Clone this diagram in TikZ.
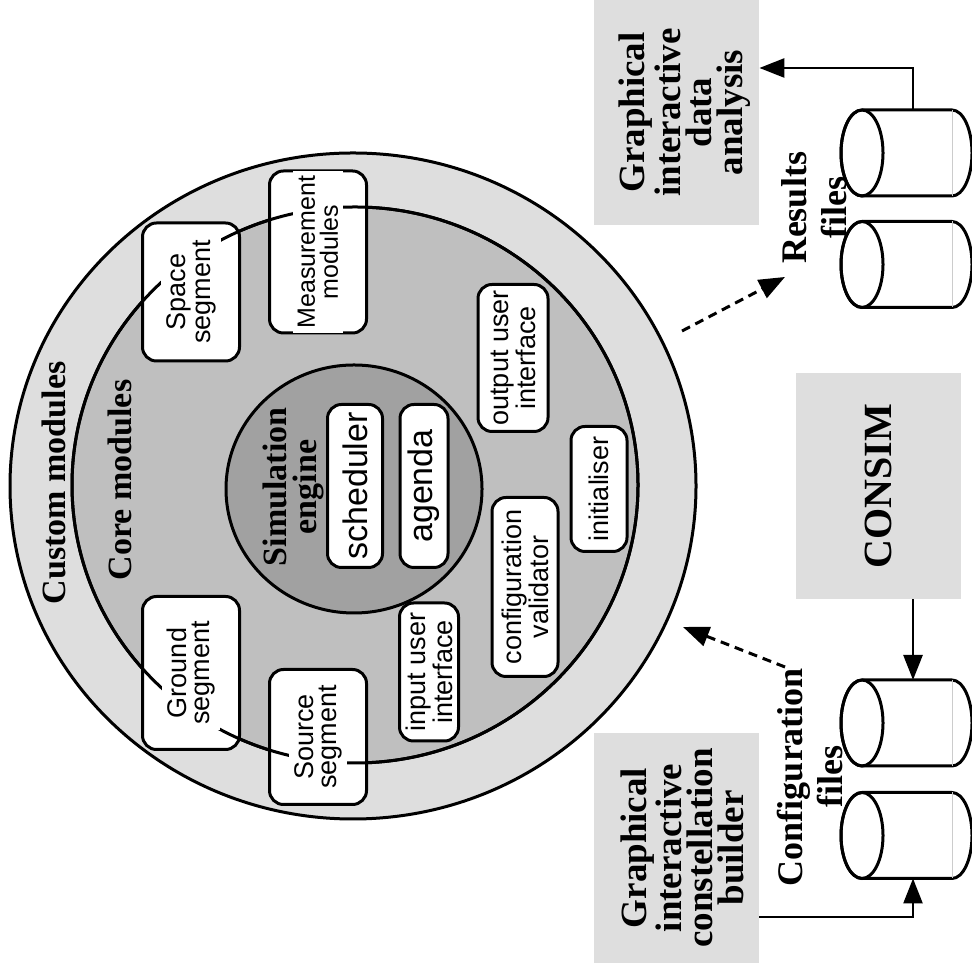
\documentclass[tikz,border=0pt]{standalone}
\usepackage{fontspec}
\setmainfont{Liberation Serif}
\setsansfont{Liberation Sans}
\usetikzlibrary{arrows.meta}

\definecolor{bandlight}{gray}{0.87}
\definecolor{bandcore}{gray}{0.75}
\definecolor{bandengine}{gray}{0.63}

\begin{document}
\begin{tikzpicture}[x=0.5pt,y=0.5pt,
  modbox/.style={draw, line width=1.5pt, fill=white, rounded corners=7pt, rotate=90, inner sep=0pt, align=center, font=\sffamily\fontsize{13.5}{11.5}\selectfont},
  modtext/.style={rotate=90, fill=white, inner sep=2.5pt, align=center, font=\sffamily\fontsize{13.5}{11.5}\selectfont},
  ringlabel/.style={rotate=90, align=center, font=\bfseries\fontsize{17}{15}\selectfont},
  toolbox/.style={fill=bandlight, rotate=90, inner sep=0pt},
  tooltext/.style={rotate=90, align=center, font=\bfseries\fontsize{18.5}{15.5}\selectfont},
  filelabel/.style={rotate=90, align=center, font=\bfseries\fontsize{18}{20}\selectfont},
  ringline/.style={line width=1.5pt},
  flow/.style={line width=1.3pt, -{Triangle[length=12.5pt,width=9.5pt]}},
  dataflow/.style={line width=1.5pt, dash pattern=on 4.5pt off 3pt, -{Triangle[length=13pt,width=10pt]}}]
 \useasboundingbox (0,0) rectangle (972,972);

 % rings
 \draw[ringline, fill=bandlight] (353,486) ellipse [x radius=343, y radius=333];
 \draw[ringline, fill=bandcore] (355,487) ellipse [x radius=283, y radius=278];
 \draw[ringline, fill=bandengine] (354,483) ellipse [x radius=128, y radius=124];

 \node[ringlabel] (customLbl) at (54,489) {Custom modules};
 \node[ringlabel] (coreLbl) at (120,492) {Core modules};
 \node[ringlabel] (engineLbl) at (293,485) {Simulation\\engine};

 % modules
 \node[modbox, minimum width=69pt, minimum height=48.5pt] (space) at (191,680) {};
 \node[modbox, minimum width=81pt, minimum height=48.5pt] (measure) at (318,720) {};
 \node[modbox, minimum width=76.5pt, minimum height=48.5pt] (ground) at (191,299) {};
 \node[modbox, minimum width=67.5pt, minimum height=48.5pt] (source) at (318,235) {};
 \node[modbox, minimum width=69pt, minimum height=29.5pt] (inUI) at (429,300) {input user\\interface};
 \node[modbox, minimum width=73.5pt, minimum height=35pt] (outUI) at (513,614) {output user\\interface};
 \node[modbox, minimum width=62.5pt, minimum height=28pt] (init) at (599,483) {initialiser};
 \node[modbox, minimum width=89.5pt, minimum height=33pt] (validator) at (525,385) {configuration\\validator};
 \node[modbox, minimum width=81.5pt, minimum height=27.5pt, font=\sffamily\fontsize{17}{17}\selectfont] (sched) at (355,486) {scheduler};
 \node[modbox, minimum width=81.5pt, minimum height=24pt, font=\sffamily\fontsize{17}{17}\selectfont] (agenda) at (424,486) {agenda};

 % core ring edge runs over the segment boxes
 \draw[ringline] (355,487) ellipse [x radius=283, y radius=278];
 \node[modtext] (spaceTxt) at (space) {Space\\segment};
 \node[modtext, font=\sffamily\fontsize{12.5}{11.5}\selectfont] (measureTxt) at (measure) {Measurement\\modules};
 \node[modtext] (groundTxt) at (ground) {Ground\\segment};
 \node[modtext] (sourceTxt) at (source) {Source\\segment};

 % tools
 \node[toolbox, minimum width=112.5pt, minimum height=82.5pt] (analysis) at (676.5,859.5) {};
 \node[tooltext] (analysisTxt) at ([xshift=4pt]analysis.center) {Graphical\\interactive\\data\\analysis};
 \node[toolbox, minimum width=113pt, minimum height=82.5pt] (consim) at (878.5,486) {};
 \node[tooltext, font=\bfseries\fontsize{20}{20}\selectfont] (consimTxt) at (consim) {CONSIM};
 \node[toolbox, minimum width=115pt, minimum height=82.5pt] (builder) at (676.5,124) {};
 \node[tooltext] (builderTxt) at ([xshift=3pt]builder.center) {Graphical\\interactive\\constellation\\builder};

 % files
 \foreach \yc in {819,707.5,249,136.5}{
  \draw[line width=1.5pt, fill=white] (952,\yc+43) -- (862,\yc+43)
    arc[start angle=90, end angle=270, x radius=21, y radius=43] -- (952,\yc-43)
    arc[start angle=-90, end angle=90, x radius=20, y radius=43] -- cycle;
  \draw[line width=1.5pt] (862,\yc) ellipse [x radius=21, y radius=43];
  \draw[gray!40, line width=0.4pt] (952,\yc+43) -- (952,\yc-43);
 }
 \node[filelabel] (resLbl) at (814,764) {Results\\files};
 \node[filelabel] (cfgLbl) at (810,195) {Configuration\\files};

 \coordinate (resTop) at (913,862);
 \coordinate (cfgTop) at (913,292);
 \coordinate (cfgBot) at (913,93.5);
 \draw[flow] (resTop) |- (analysis.south |- 0,904);
 \draw[flow] (consim.west -| cfgTop) -- (cfgTop);
 \draw[flow] (builder.south |- 0,55) -| (cfgBot);

 \coordinate (ringOut) at (682,641);
 \coordinate (resIn) at (785,695);
 \coordinate (cfgOut) at (785,305);
 \coordinate (ringIn) at (683,345);
 \draw[dataflow] (ringOut) -- (resIn);
 \draw[dataflow] (cfgOut) -- (ringIn);
\end{tikzpicture}
\end{document}
